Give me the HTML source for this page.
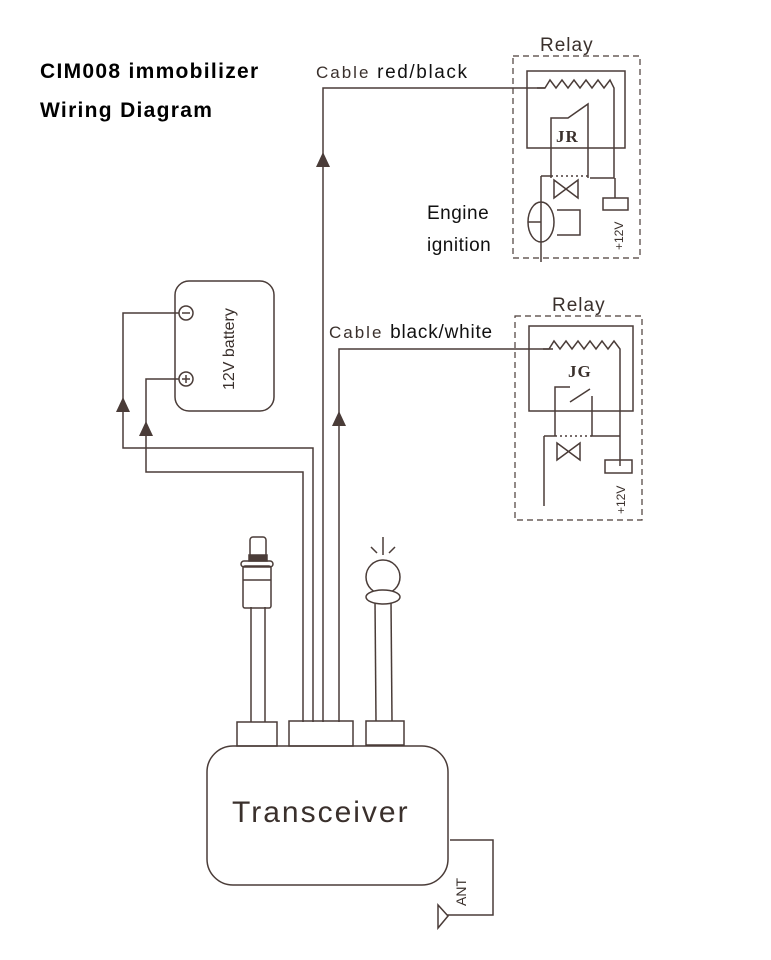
<!DOCTYPE html>
<html><head><meta charset="utf-8"><style>
html,body{margin:0;padding:0;background:#fff;}
svg{display:block;}
</style></head><body>
<svg width="771" height="960" viewBox="0 0 771 960" xmlns="http://www.w3.org/2000/svg" font-family="Liberation Sans, sans-serif">
<rect width="771" height="960" fill="#fff"/>
<g fill="#000" font-weight="bold" font-size="21">
<text x="40" y="78" letter-spacing="1.3">CIM008 immobilizer</text>
<text x="40" y="117" letter-spacing="1.3">Wiring Diagram</text>
</g>
<g stroke="#4a3c38" stroke-width="1.5" fill="none">
<rect x="175" y="281" width="99" height="130" rx="14"/>
<circle cx="186" cy="313" r="7"/><line x1="182" y1="313" x2="190" y2="313"/>
<circle cx="186" cy="379" r="7"/><line x1="182" y1="379" x2="190" y2="379"/><line x1="186" y1="375" x2="186" y2="383"/>
<polyline points="179,313 123,313 123,448 313,448 313,722"/>
<polyline points="179,379 146,379 146,472 303,472 303,722"/>
<polyline points="323,722 323,88 545,88"/>
<polyline points="339,722 339,349 553,349"/>
<rect x="513" y="56" width="127" height="202" stroke-dasharray="6,4" stroke-width="1.2"/>
<rect x="527" y="71" width="98" height="77"/>
<polyline points="537,88 545,88 550,80 556,88 562,80 568,88 574,80 580,88 586,80 592,88 598,80 604,88 610,80 614,88 614,178 590,178"/>
<polyline points="551,178 551,118 568,118 588,104 588,178"/>
<line x1="541" y1="176" x2="551" y2="176"/>
<line x1="551" y1="176" x2="588" y2="176" stroke-dasharray="2,3"/>
<polyline points="541,176 541,262"/>
<polygon points="554,180 578,198 578,180 554,198"/>
<rect x="603" y="198" width="25" height="12"/>
<line x1="615" y1="178" x2="615" y2="198"/>
<ellipse cx="541" cy="222" rx="13" ry="20"/>
<line x1="528" y1="222" x2="541" y2="222"/>
<polyline points="557,210 580,210 580,235 557,235"/>
<rect x="515" y="316" width="127" height="204" stroke-dasharray="6,4" stroke-width="1.2"/>
<rect x="529" y="326" width="104" height="85"/>
<polyline points="543,349 549,349 554,341 560,349 566,341 572,349 578,341 584,349 590,341 596,349 602,341 608,349 614,341 620,349 620,466"/>
<polyline points="555,436 555,387 570,387"/>
<line x1="570" y1="402" x2="590" y2="389"/>
<polyline points="592,396 592,436 620,436"/>
<line x1="544" y1="436" x2="555" y2="436"/>
<line x1="555" y1="436" x2="592" y2="436" stroke-dasharray="2,3"/>
<line x1="544" y1="436" x2="544" y2="506"/>
<polygon points="557,443 580,460 580,443 557,460"/>
<rect x="605" y="460" width="27" height="13"/>
<rect x="207" y="746" width="241" height="139" rx="26"/>
<rect x="237" y="722" width="40" height="24"/>
<rect x="289" y="721" width="64" height="25"/>
<rect x="366" y="721" width="38" height="24"/>
<line x1="251" y1="607" x2="251" y2="722"/><line x1="265" y1="607" x2="265" y2="722"/>
<rect x="243" y="566" width="28" height="42" rx="2"/>
<line x1="243" y1="580" x2="271" y2="580"/>
<rect x="241" y="561" width="32" height="6" rx="3"/>
<rect x="250" y="537" width="16" height="20" rx="3"/>
<rect x="249" y="555" width="18" height="6" fill="#4a3c38"/>
<line x1="375" y1="601" x2="376" y2="721"/><line x1="391" y1="601" x2="392" y2="721"/>
<circle cx="383" cy="577" r="17"/>
<ellipse cx="383" cy="597" rx="17" ry="7" fill="#fff"/>
<line x1="383" y1="537" x2="383" y2="555"/>
<line x1="371" y1="547" x2="377" y2="553"/>
<line x1="395" y1="547" x2="389" y2="553"/>
<polyline points="450,840 493,840 493,915 447,915"/>
<polygon points="438,905 438,928 448,916"/>
</g>
<g fill="#4a3c38">
<polygon points="123,397 116,412 130,412"/>
<polygon points="146,421 139,436 153,436"/>
<polygon points="323,152 316,167 330,167"/>
<polygon points="339,411 332,426 346,426"/>
</g>
<g fill="#3a302c">
<text x="540" y="51" font-size="19" letter-spacing="1">Relay</text>
<text x="552" y="311" font-size="19" letter-spacing="1">Relay</text>
<text x="316" y="78" font-size="17" letter-spacing="2">Cable <tspan fill="#111" font-size="19" letter-spacing="1.6">red/black</tspan></text>
<text x="329" y="338" font-size="17" letter-spacing="2">Cable <tspan fill="#111" font-size="19" letter-spacing="0.8">black/white</tspan></text>
<text x="427" y="219" font-size="19" letter-spacing="0.5" fill="#111">Engine</text>
<text x="427" y="251" font-size="19" letter-spacing="0.5" fill="#111">ignition</text>
<text font-family="Liberation Serif, serif" font-weight="bold" font-size="17" x="556" y="142" letter-spacing="1">JR</text>
<text font-family="Liberation Serif, serif" font-weight="bold" font-size="17" x="568" y="377" letter-spacing="1">JG</text>
<text x="232" y="822" font-size="30" letter-spacing="2">Transceiver</text>
<text transform="translate(234,390) rotate(-90)" font-size="16">12V battery</text>
<text transform="translate(623,250) rotate(-90)" font-size="12">+12V</text>
<text transform="translate(625,514) rotate(-90)" font-size="12">+12V</text>
<text transform="translate(466,906) rotate(-90)" font-size="14">ANT</text>
</g>
</svg>
</body></html>
